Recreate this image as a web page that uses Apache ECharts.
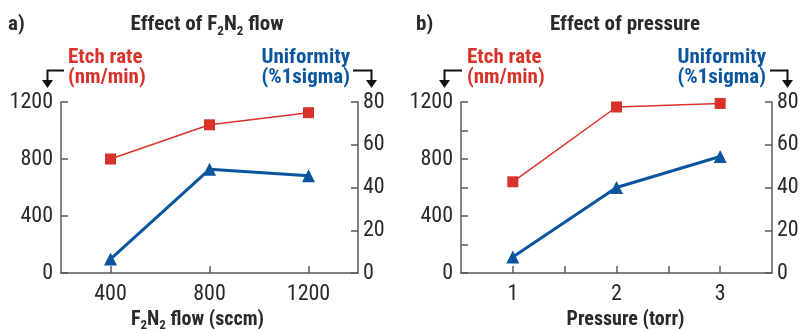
<!DOCTYPE html>
<html>
<head>
<meta charset="utf-8">
<script src="https://cdn.jsdelivr.net/npm/echarts@6/dist/echarts.min.js"></script>
<style>
  html, body { margin: 0; padding: 0; background: #fff; }
  #chart { width: 800px; height: 329px; }
</style>
</head>
<body>
<div id="chart"></div>
<script>
// panel a: F2N2 flow
var flowX = [400, 800, 1200];
var etchA = [800, 1040, 1125];
var uniA = [6.5, 48.5, 45.5];
// panel b: pressure
var pressX = [1, 2, 3];
var etchB = [640, 1165, 1190];
var uniB = [7.5, 40, 54.5];

var etchTicksA = [0, 400, 800, 1200];
var etchTicksB = [0, 200, 400, 600, 800, 1000, 1200];
var uniTicks = [0, 20, 40, 60, 80];
var pressTicks = [1, 1.5, 2, 2.5, 3];

var FONT = "'Liberation Sans Narrow', 'Roboto Condensed', 'Arial Narrow', sans-serif";
var RED = '#d9322b';
var BLUE = '#0b559f';
var AXC = '#5a5a5a';
var TXT = '#2a2a2a';

var myChart = echarts.init(document.getElementById('chart'));

function plain(v) { return String(v); }

function xAx(grid, min, max, ticks, labels, name, nameRich, namePad) {
  return {
    type: 'value', gridIndex: grid, min: min, max: max,
    axisLine: { show: true, lineStyle: { color: AXC, width: 1.5 } },
    axisTick: { show: true, inside: true, length: 7, customValues: ticks, lineStyle: { color: AXC, width: 1.5 } },
    axisLabel: { customValues: labels, formatter: plain, color: TXT, fontSize: 22, fontFamily: FONT, margin: 10 },
    splitLine: { show: false },
    name: name, nameLocation: 'middle', nameGap: 34,
    nameTextStyle: { fontFamily: FONT, fontWeight: 'bold', fontSize: 20, color: TXT, padding: namePad, rich: nameRich }
  };
}

function yAx(grid, pos, max, ticks, labels, margin) {
  return {
    type: 'value', gridIndex: grid, position: pos, min: 0, max: max,
    axisLine: { show: true, lineStyle: { color: AXC, width: 1.5 } },
    axisTick: { show: true, inside: true, length: 7, customValues: ticks, lineStyle: { color: AXC, width: 1.5 } },
    axisLabel: { customValues: labels, formatter: plain, color: TXT, fontSize: 22, fontFamily: FONT, margin: margin },
    splitLine: { show: false }
  };
}

var subRich = {
  m: { fontFamily: FONT, fontWeight: 'bold', fontSize: 21, color: TXT, lineHeight: 26 },
  s: { fontFamily: FONT, fontWeight: 'bold', fontSize: 13, color: TXT, lineHeight: 13, verticalAlign: 'bottom' }
};
var subRichAx = {
  m: { fontFamily: FONT, fontWeight: 'bold', fontSize: 20, color: TXT, lineHeight: 25 },
  s: { fontFamily: FONT, fontWeight: 'bold', fontSize: 13, color: TXT, lineHeight: 13, verticalAlign: 'bottom' }
};

function txt(x, y, s, color, align, rich) {
  return {
    type: 'text', x: x, y: y,
    style: { text: s, fill: color, font: 'bold 21px ' + FONT, align: align, verticalAlign: 'middle', rich: rich }
  };
}

function arrow(x0, x1, y, tipY) {
  return [
    { type: 'polyline', shape: { points: [[x0, y], [x1, y], [x1, tipY - 7]] }, style: { fill: null, stroke: '#111', lineWidth: 2 } },
    { type: 'polygon', shape: { points: [[x1 - 5.5, tipY - 8], [x1 + 5.5, tipY - 8], [x1, tipY]] }, style: { fill: '#111' } }
  ];
}

var graphics = [
  txt(8, 25, 'a)', TXT, 'left'),
  txt(416, 25, 'b)', TXT, 'left'),
  txt(207, 25, '{m|Effect of F}{s|2}{m|N}{s|2}{m| flow}', TXT, 'center', subRich),
  txt(625, 25, 'Effect of pressure', TXT, 'center'),
  txt(68, 58, 'Etch rate', RED, 'left'),
  txt(68, 78, '(nm/min)', RED, 'left'),
  txt(350, 58, 'Uniformity', BLUE, 'right'),
  txt(350, 78, '(%1sigma)', BLUE, 'right'),
  txt(467, 58, 'Etch rate', RED, 'left'),
  txt(467, 78, '(nm/min)', RED, 'left'),
  txt(766, 58, 'Uniformity', BLUE, 'right'),
  txt(766, 78, '(%1sigma)', BLUE, 'right')
]
  .concat(arrow(64, 47.5, 70.5, 88))
  .concat(arrow(353, 371.5, 70.5, 88))
  .concat(arrow(462, 444.5, 70.5, 88))
  .concat(arrow(770, 787.5, 70.5, 88));

function pairs(xs, ys) {
  return xs.map(function (x, i) { return [x, ys[i]]; });
}

myChart.setOption({
  backgroundColor: '#fff',
  animation: false,
  graphic: graphics,
  grid: [
    { left: 61, right: 442, top: 102, bottom: 56, containLabel: false, outerBoundsMode: 'none' },
    { left: 461, right: 28, top: 102, bottom: 56, containLabel: false, outerBoundsMode: 'none' }
  ],
  xAxis: [
    xAx(0, 200, 1400, flowX, flowX, '{m|F}{s|2}{m|N}{s|2}{m| flow (sccm)}', subRichAx, [0, 24, 0, 0]),
    xAx(1, 0.5, 3.5, pressTicks, pressX, 'Pressure (torr)', null, [0, 0, 0, 18])
  ],
  yAxis: [
    yAx(0, 'left', 1200, etchTicksA, etchTicksA, 8),
    yAx(0, 'right', 80, uniTicks, uniTicks, 5),
    yAx(1, 'left', 1200, etchTicksB, etchTicksA, 8),
    yAx(1, 'right', 80, uniTicks, uniTicks, 5)
  ],
  series: [
    { type: 'line', xAxisIndex: 0, yAxisIndex: 0, data: pairs(flowX, etchA),
      symbol: 'rect', symbolSize: 11, lineStyle: { color: RED, width: 1.5 }, itemStyle: { color: RED } },
    { type: 'line', xAxisIndex: 0, yAxisIndex: 1, data: pairs(flowX, uniA),
      symbol: 'triangle', symbolSize: 13, lineStyle: { color: BLUE, width: 3 }, itemStyle: { color: BLUE } },
    { type: 'line', xAxisIndex: 1, yAxisIndex: 2, data: pairs(pressX, etchB),
      symbol: 'rect', symbolSize: 11, lineStyle: { color: RED, width: 1.5 }, itemStyle: { color: RED } },
    { type: 'line', xAxisIndex: 1, yAxisIndex: 3, data: pairs(pressX, uniB),
      symbol: 'triangle', symbolSize: 13, lineStyle: { color: BLUE, width: 3 }, itemStyle: { color: BLUE } }
  ]
});
</script>
</body>
</html>
